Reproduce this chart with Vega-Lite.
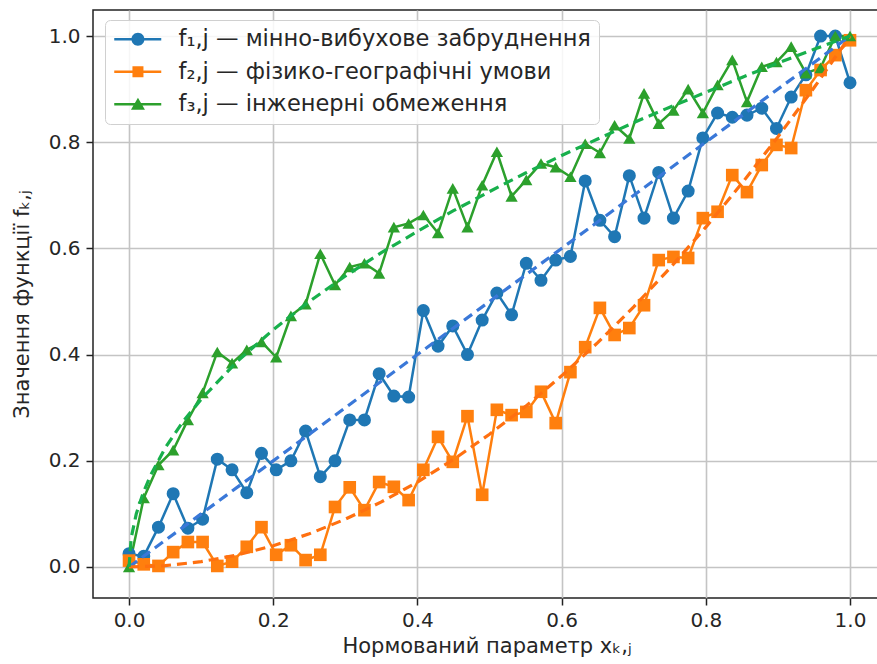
{
  "$schema": "https://vega.github.io/schema/vega-lite/v6.json",
  "width": 787,
  "height": 588,
  "autosize": {"type": "none"},
  "padding": {"left": 93, "top": 10, "right": -3, "bottom": 66},
  "background": "white",
  "config": {
    "view": {"stroke": "#222222", "strokeWidth": 1.5},
    "font": "DejaVu Sans",
    "axis": {
      "domain": false,
      "tickColor": "#222222",
      "tickWidth": 1.5,
      "tickSize": 7,
      "labelFont": "DejaVu Sans",
      "labelFontSize": 20,
      "labelColor": "#262626",
      "titleFont": "DejaVu Sans",
      "titleFontSize": 21,
      "titleFontWeight": "normal",
      "titleColor": "#262626",
      "gridColor": "#c4c4c4",
      "gridWidth": 1.6
    }
  },
  "datasets": {
    "series": [
      {"x": 0.0, "f1": 0.025, "f2": 0.012, "f3": 0.0},
      {"x": 0.0204, "f1": 0.02, "f2": 0.005, "f3": 0.13},
      {"x": 0.0408, "f1": 0.075, "f2": 0.002, "f3": 0.192},
      {"x": 0.0612, "f1": 0.138, "f2": 0.028, "f3": 0.22},
      {"x": 0.0816, "f1": 0.073, "f2": 0.047, "f3": 0.277},
      {"x": 0.102, "f1": 0.09, "f2": 0.047, "f3": 0.328},
      {"x": 0.1224, "f1": 0.203, "f2": 0.002, "f3": 0.405},
      {"x": 0.1429, "f1": 0.183, "f2": 0.01, "f3": 0.384},
      {"x": 0.1633, "f1": 0.14, "f2": 0.038, "f3": 0.409},
      {"x": 0.1837, "f1": 0.214, "f2": 0.075, "f3": 0.424},
      {"x": 0.2041, "f1": 0.183, "f2": 0.023, "f3": 0.395},
      {"x": 0.2245, "f1": 0.2, "f2": 0.041, "f3": 0.473},
      {"x": 0.2449, "f1": 0.256, "f2": 0.013, "f3": 0.495},
      {"x": 0.2653, "f1": 0.17, "f2": 0.023, "f3": 0.59},
      {"x": 0.2857, "f1": 0.2, "f2": 0.113, "f3": 0.531},
      {"x": 0.3061, "f1": 0.277, "f2": 0.15, "f3": 0.565},
      {"x": 0.3265, "f1": 0.277, "f2": 0.107, "f3": 0.572},
      {"x": 0.3469, "f1": 0.364, "f2": 0.16, "f3": 0.553},
      {"x": 0.3673, "f1": 0.322, "f2": 0.151, "f3": 0.64},
      {"x": 0.3878, "f1": 0.32, "f2": 0.126, "f3": 0.647},
      {"x": 0.4082, "f1": 0.483, "f2": 0.183, "f3": 0.663},
      {"x": 0.4286, "f1": 0.416, "f2": 0.245, "f3": 0.629},
      {"x": 0.449, "f1": 0.454, "f2": 0.198, "f3": 0.713},
      {"x": 0.4694, "f1": 0.4, "f2": 0.284, "f3": 0.64},
      {"x": 0.4898, "f1": 0.465, "f2": 0.136, "f3": 0.719},
      {"x": 0.5102, "f1": 0.516, "f2": 0.296, "f3": 0.782},
      {"x": 0.5306, "f1": 0.475, "f2": 0.286, "f3": 0.698},
      {"x": 0.551, "f1": 0.572, "f2": 0.292, "f3": 0.729},
      {"x": 0.5714, "f1": 0.54, "f2": 0.33, "f3": 0.76},
      {"x": 0.5918, "f1": 0.578, "f2": 0.271, "f3": 0.753},
      {"x": 0.6122, "f1": 0.585, "f2": 0.367, "f3": 0.735},
      {"x": 0.6327, "f1": 0.727, "f2": 0.414, "f3": 0.797},
      {"x": 0.6531, "f1": 0.653, "f2": 0.488, "f3": 0.78},
      {"x": 0.6735, "f1": 0.622, "f2": 0.437, "f3": 0.832},
      {"x": 0.6939, "f1": 0.737, "f2": 0.45, "f3": 0.807},
      {"x": 0.7143, "f1": 0.657, "f2": 0.493, "f3": 0.892},
      {"x": 0.7347, "f1": 0.743, "f2": 0.578, "f3": 0.835},
      {"x": 0.7551, "f1": 0.657, "f2": 0.584, "f3": 0.86},
      {"x": 0.7755, "f1": 0.708, "f2": 0.582, "f3": 0.9},
      {"x": 0.7959, "f1": 0.808, "f2": 0.657, "f3": 0.855},
      {"x": 0.8163, "f1": 0.855, "f2": 0.669, "f3": 0.908},
      {"x": 0.8367, "f1": 0.847, "f2": 0.738, "f3": 0.955},
      {"x": 0.8571, "f1": 0.851, "f2": 0.706, "f3": 0.876},
      {"x": 0.8776, "f1": 0.864, "f2": 0.757, "f3": 0.942},
      {"x": 0.898, "f1": 0.826, "f2": 0.795, "f3": 0.951},
      {"x": 0.9184, "f1": 0.885, "f2": 0.789, "f3": 0.98},
      {"x": 0.9388, "f1": 0.927, "f2": 0.898, "f3": 0.93},
      {"x": 0.9592, "f1": 1.0, "f2": 0.936, "f3": 0.94},
      {"x": 0.9796, "f1": 1.0, "f2": 0.964, "f3": 1.0},
      {"x": 1.0, "f1": 0.912, "f2": 0.992, "f3": 1.0}
    ],
    "trends": [
      {"trend": "t1", "x": 0.0, "val": 0.0},
      {"trend": "t1", "x": 0.5, "val": 0.5},
      {"trend": "t1", "x": 1.0, "val": 1.0},
      {"trend": "t2", "x": 0.0, "val": 0.0},
      {"trend": "t2", "x": 0.05, "val": 0.0025},
      {"trend": "t2", "x": 0.1, "val": 0.01},
      {"trend": "t2", "x": 0.15, "val": 0.0225},
      {"trend": "t2", "x": 0.2, "val": 0.04},
      {"trend": "t2", "x": 0.25, "val": 0.0625},
      {"trend": "t2", "x": 0.3, "val": 0.09},
      {"trend": "t2", "x": 0.35, "val": 0.1225},
      {"trend": "t2", "x": 0.4, "val": 0.16},
      {"trend": "t2", "x": 0.45, "val": 0.2025},
      {"trend": "t2", "x": 0.5, "val": 0.25},
      {"trend": "t2", "x": 0.55, "val": 0.3025},
      {"trend": "t2", "x": 0.6, "val": 0.36},
      {"trend": "t2", "x": 0.65, "val": 0.4225},
      {"trend": "t2", "x": 0.7, "val": 0.49},
      {"trend": "t2", "x": 0.75, "val": 0.5625},
      {"trend": "t2", "x": 0.8, "val": 0.64},
      {"trend": "t2", "x": 0.85, "val": 0.7225},
      {"trend": "t2", "x": 0.9, "val": 0.81},
      {"trend": "t2", "x": 0.95, "val": 0.9025},
      {"trend": "t2", "x": 1.0, "val": 1.0},
      {"trend": "t3", "x": 0.0, "val": 0.0},
      {"trend": "t3", "x": 0.003, "val": 0.055},
      {"trend": "t3", "x": 0.01, "val": 0.1},
      {"trend": "t3", "x": 0.02, "val": 0.141},
      {"trend": "t3", "x": 0.03, "val": 0.173},
      {"trend": "t3", "x": 0.05, "val": 0.224},
      {"trend": "t3", "x": 0.075, "val": 0.274},
      {"trend": "t3", "x": 0.1, "val": 0.316},
      {"trend": "t3", "x": 0.15, "val": 0.387},
      {"trend": "t3", "x": 0.2, "val": 0.447},
      {"trend": "t3", "x": 0.25, "val": 0.5},
      {"trend": "t3", "x": 0.3, "val": 0.548},
      {"trend": "t3", "x": 0.35, "val": 0.592},
      {"trend": "t3", "x": 0.4, "val": 0.632},
      {"trend": "t3", "x": 0.45, "val": 0.671},
      {"trend": "t3", "x": 0.5, "val": 0.707},
      {"trend": "t3", "x": 0.55, "val": 0.742},
      {"trend": "t3", "x": 0.6, "val": 0.775},
      {"trend": "t3", "x": 0.65, "val": 0.806},
      {"trend": "t3", "x": 0.7, "val": 0.837},
      {"trend": "t3", "x": 0.75, "val": 0.866},
      {"trend": "t3", "x": 0.8, "val": 0.894},
      {"trend": "t3", "x": 0.85, "val": 0.922},
      {"trend": "t3", "x": 0.9, "val": 0.949},
      {"trend": "t3", "x": 0.95, "val": 0.975},
      {"trend": "t3", "x": 1.0, "val": 1.0}
    ]
  },
  "encoding": {
    "x": {
      "field": "x", "type": "quantitative",
      "scale": {"domain": [-0.05, 1.0416], "nice": false, "zero": false},
      "axis": {
        "values": [0, 0.2, 0.4, 0.6, 0.8, 1.0], "format": ".1f",
        "grid": true, "ticks": true,
        "labelPadding": 5, "labelFlush": false,
        "title": "Нормований параметр xₖ,ⱼ", "titlePadding": 5
      }
    },
    "y": {
      "field": "val", "type": "quantitative",
      "scale": {"domain": [-0.0584, 1.049], "nice": false, "zero": false},
      "axis": {
        "values": [0, 0.2, 0.4, 0.6, 0.8, 1.0], "format": ".1f",
        "grid": true, "ticks": true,
        "labelPadding": 6, "labelFlush": false,
        "title": "Значення функції fₖ,ⱼ", "titlePadding": 16
      }
    }
  },
  "layer": [
    {
      "data": {"name": "series"},
      "transform": [{"fold": ["f1", "f2", "f3"], "as": ["series", "val"]}],
      "mark": {"type": "line", "strokeWidth": 2.5},
      "encoding": {
        "color": {
          "field": "series", "type": "nominal",
          "scale": {"domain": ["f1", "f2", "f3"], "range": ["#1f77b4", "#ff7f0e", "#2ca02c"]},
          "legend": {
            "title": null,
            "orient": "none",
            "legendX": 12,
            "legendY": 10,
            "padding": 8,
            "fillColor": "rgba(255,255,255,0.85)",
            "strokeColor": "#d0d0d0",
            "cornerRadius": 5,
            "symbolSize": 400,
            "labelOffset": 43,
            "rowPadding": 9.5,
            "labelFont": "DejaVu Sans",
            "labelFontSize": 22.5,
            "labelColor": "#262626",
            "labelLimit": 600,
            "labelExpr": "datum.label == 'f1' ? 'f₁,j — мінно-вибухове забруднення' : datum.label == 'f2' ? 'f₂,j — фізико-географічні умови' : 'f₃,j — інженерні обмеження'",
            "encode": {
              "symbols": {
                "update": {
                  "shape": {"signal": "datum.value == 'f1' ? 'M-1,-0.125H3.7V0.125H-1Z M2.02,0A0.65,0.65 0 1,1 0.72,0A0.65,0.65 0 1,1 2.02,0Z' : datum.value == 'f2' ? 'M-1,-0.125H3.7V0.125H-1Z M0.82,-0.55H1.92V0.55H0.82Z' : 'M-1,-0.125H3.7V0.125H-1Z M1.37,-0.65L2.07,0.55H0.67Z'"},
                  "fill": {"signal": "datum.value == 'f1' ? '#1f77b4' : datum.value == 'f2' ? '#ff7f0e' : '#2ca02c'"},
                  "fillOpacity": {"value": 1},
                  "strokeWidth": {"value": 0},
                  "opacity": {"value": 1}
                }
              }
            }
          }
        }
      }
    },
    {
      "data": {"name": "series"},
      "transform": [{"fold": ["f1", "f2", "f3"], "as": ["series", "val"]}],
      "mark": {"type": "point", "filled": true, "opacity": 1},
      "encoding": {
        "color": {
          "field": "series", "type": "nominal",
          "scale": {"domain": ["f1", "f2", "f3"], "range": ["#1f77b4", "#ff7f0e", "#2ca02c"]},
          "legend": null
        },
        "shape": {
          "field": "series", "type": "nominal",
          "scale": {"domain": ["f1", "f2", "f3"], "range": ["circle", "square", "triangle-up"]},
          "legend": null
        },
        "size": {
          "field": "series", "type": "nominal",
          "scale": {"domain": ["f1", "f2", "f3"], "range": [170, 150, 210]},
          "legend": null
        }
      }
    },
    {
      "data": {"name": "trends"},
      "mark": {"type": "line", "strokeWidth": 3.2, "strokeDash": [10, 6]},
      "encoding": {
        "color": {
          "field": "trend", "type": "nominal",
          "scale": {"domain": ["t1", "t2", "t3"], "range": ["#3a78d8", "#ff7010", "#18b04c"]},
          "legend": null
        }
      }
    }
  ],
  "resolve": {"scale": {"color": "independent"}}
}
